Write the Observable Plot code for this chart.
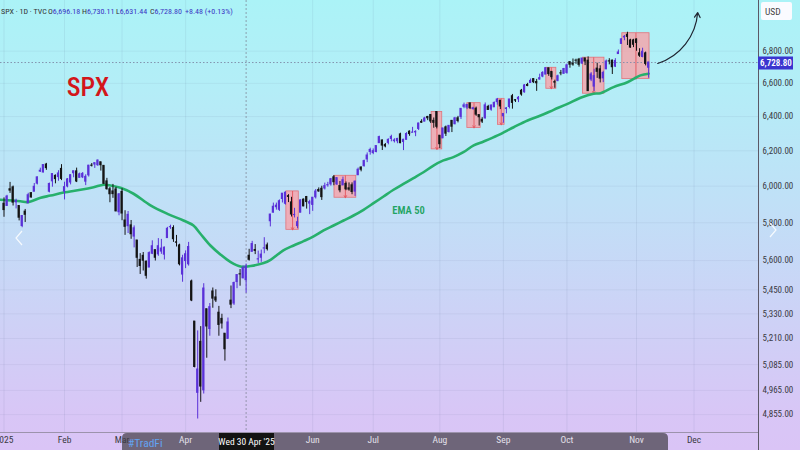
<!DOCTYPE html>
<html><head><meta charset="utf-8">
<script src="https://cdn.jsdelivr.net/npm/d3@7"></script>
<script src="https://cdn.jsdelivr.net/npm/@observablehq/plot@0.6"></script>
<style>
html,body{margin:0;padding:0;background:#fff;}
#chart{width:800px;height:450px;position:relative;overflow:hidden;
background:linear-gradient(to bottom,#abf3f7 0%,#b3eef7 18%,#c0e0f7 45%,#cdd2f6 70%,#d8c6f6 92%,#dac4f6 100%);}
#chart svg{display:block;}
</style></head><body><div id="chart"></div>
<script>
// ---- Daily OHLC, SPX, 2 Jan 2025 -> 7 Nov 2025 (bar index = trading day) ----
const opens = [
5903.26,5891.07,5982.81,5993.26,5910.66,5890.66,5782.35,5859.95,5905.21,5961.30,5969.04,6014.12,6081.39,6076.32,6121.43,5969.04,6026.97,6057.70,6050.75,6096.79,
5969.65,5998.14,6020.45,6072.22,6083.13,6046.40,6049.32,6025.08,6060.59,6115.52,6121.60,6117.76,6134.50,6114.10,6026.69,5982.73,5970.87,5981.88,5856.74,
5968.33,5811.98,5781.39,5785.87,5726.01,5705.37,5603.65,5624.84,5594.45,5563.85,5635.60,5654.53,5632.37,5646.92,5630.73,5718.08,5775.86,5771.66,5695.64,5679.29,5527.91,
5597.53,5580.76,5492.74,5292.14,4953.79,5193.57,4965.28,5353.15,5255.56,5441.96,5411.99,5335.75,5305.45,5232.94,5207.67,5395.92,5381.38,5489.73,5529.22,5508.87,5499.44,
5625.14,5645.46,5655.32,5605.88,5614.55,5663.11,5679.49,5807.82,5854.12,5884.12,5869.76,5929.09,5902.88,5944.66,5910.51,5841.26,5781.89,5854.07,5925.62,5939.96,5903.67,
5896.68,5938.56,5978.94,5985.67,5987.06,6004.60,6009.91,6049.38,6009.90,6000.56,6004.00,6012.15,5987.93,6004.80,5969.67,6061.21,6104.51,6112.14,6150.70,6193.36,
6187.25,6193.21,6243.92,6259.75,6233.14,6245.41,6268.43,6255.68,6255.15,6295.28,6250.86,6263.40,6311.03,6304.74,6306.60,6326.90,6368.60,6370.01,6397.69,6409.37,6374.63,6427.02,
6287.28,6271.71,6336.15,6309.03,6374.39,6355.06,6389.67,6397.32,6457.88,6453.34,6478.21,6445.02,6446.70,6408.95,6380.88,6388.98,6457.67,6440.83,6455.07,6486.20,6494.89,
6401.51,6444.84,6456.95,6521.86,6498.09,6503.17,6555.00,6545.45,6590.29,6602.43,6626.08,6608.49,6623.73,6641.53,6653.84,6692.95,6670.64,6607.59,6615.64,6661.58,6658.71,
6664.28,6731.31,6722.14,6740.45,6746.74,6722.76,6754.40,6740.21,6623.18,6580.25,6690.84,6686.63,6630.75,6686.45,6736.09,6740.58,6703.07,6781.83,6845.76,6886.83,6904.20,6868.08,6868.26,
6873.97,6786.39,6763.55,6786.17,6696.18];
const highs = [
5935.09,5949.34,6021.04,6000.68,5927.89,5890.66,5838.56,5871.90,5960.61,5964.69,6014.96,6051.51,6100.81,6118.73,6128.18,6017.17,6069.90,6062.83,6086.64,6120.91,
6022.13,6042.48,6062.86,6084.03,6101.28,6073.38,6076.28,6063.49,6116.91,6127.47,6129.63,6147.43,6134.50,6114.82,6043.65,5992.65,6009.82,5993.69,5959.40,
5986.09,5865.08,5860.59,5812.08,5783.01,5705.37,5636.30,5642.19,5597.78,5645.27,5703.52,5654.53,5715.33,5711.15,5670.84,5775.14,5786.95,5783.62,5732.28,5685.89,5627.56,
5650.57,5695.31,5499.53,5292.14,5246.57,5267.47,5481.34,5353.15,5381.46,5459.46,5450.41,5367.24,5328.31,5232.94,5309.59,5469.69,5489.40,5528.11,5553.66,5571.95,5581.84,
5658.91,5700.71,5683.70,5649.58,5654.83,5720.10,5691.68,5845.62,5906.63,5906.48,5924.21,5958.62,5968.61,5953.06,5938.37,5878.08,5829.51,5924.33,5929.00,5943.13,5922.14,
5937.40,5981.35,5990.48,5999.70,6016.87,6021.31,6043.01,6059.40,6045.43,6026.16,6050.83,6023.25,6018.25,6018.20,6028.79,6101.80,6108.51,6146.52,6187.68,6215.08,
6210.78,6227.60,6284.65,6262.38,6242.19,6269.16,6290.22,6269.59,6272.09,6302.04,6266.40,6304.95,6315.61,6336.08,6316.12,6360.64,6381.31,6395.82,6401.07,6409.82,6391.62,6427.02,
6287.28,6329.94,6343.82,6346.08,6376.91,6395.16,6401.05,6446.55,6480.28,6473.44,6481.34,6455.35,6456.37,6408.95,6393.57,6481.20,6466.89,6468.52,6487.06,6508.23,6495.75,
6416.54,6453.67,6502.54,6532.65,6500.20,6520.00,6563.00,6592.86,6600.21,6626.99,6627.55,6624.31,6656.37,6671.82,6695.49,6692.95,6670.64,6619.42,6650.57,6679.76,6692.18,
6718.72,6731.94,6750.87,6749.52,6754.49,6753.72,6755.41,6764.22,6665.88,6686.76,6724.19,6708.72,6674.27,6744.35,6752.71,6743.64,6752.96,6807.23,6877.67,6899.86,6920.34,6875.31,6875.16,
6877.46,6815.24,6818.49,6794.21,6730.11];
const lows = [
5829.53,5888.66,5960.01,5890.68,5874.78,5809.86,5773.31,5801.48,5905.21,5934.08,5969.04,6006.88,6076.71,6074.67,6088.74,5962.92,5994.33,6012.96,6027.46,6030.93,
5923.93,5990.87,6007.06,6046.83,6019.96,6044.84,6042.34,6003.00,6050.95,6107.62,6099.51,6111.15,6084.59,6008.56,5977.83,5908.49,5932.69,5858.78,5837.66,
5810.91,5732.59,5742.35,5711.64,5666.29,5564.02,5528.41,5546.09,5504.65,5563.85,5631.12,5597.76,5622.20,5632.58,5603.10,5718.08,5764.43,5695.31,5670.94,5572.42,5488.73,
5558.52,5571.48,5390.83,5069.90,4835.04,4910.42,4948.43,5115.27,5220.77,5358.02,5386.44,5220.79,5255.58,5101.63,5207.67,5356.15,5371.96,5455.86,5468.64,5505.70,5433.24,
5597.35,5645.46,5631.16,5585.21,5591.08,5635.62,5650.07,5777.65,5853.14,5868.28,5861.04,5907.36,5895.69,5909.26,5830.91,5825.82,5767.41,5854.07,5886.81,5873.80,5843.66,
5861.43,5929.00,5966.11,5921.20,5978.63,5994.18,6000.26,6002.32,6003.88,5963.21,6004.00,5974.80,5971.89,5952.56,5943.23,6059.07,6080.31,6107.26,6132.35,6174.97,
6177.97,6188.29,6243.92,6201.80,6217.08,6234.30,6251.94,6245.23,6240.81,6241.45,6201.28,6262.60,6283.86,6303.79,6281.71,6317.49,6360.57,6368.53,6375.54,6358.52,6331.03,6327.22,
6212.69,6271.71,6282.67,6303.11,6305.75,6350.63,6362.56,6382.72,6446.63,6441.06,6441.45,6437.51,6401.26,6343.87,6358.75,6385.34,6438.06,6431.59,6454.16,6467.91,6441.72,
6360.58,6416.17,6445.47,6443.98,6483.79,6483.30,6522.00,6540.33,6579.46,6602.43,6598.80,6551.31,6619.76,6634.53,6653.84,6642.95,6620.89,6570.07,6609.45,6646.76,6656.20,
6656.20,6693.23,6705.67,6717.78,6699.96,6715.89,6709.68,6550.78,6610.62,6550.52,6630.41,6602.49,6604.70,6684.44,6714.19,6654.54,6697.55,6780.37,6845.76,6866.06,6835.71,6818.97,6822.34,
6799.29,6761.13,6758.23,6707.73,6631.44];
const closes = [
5868.55,5942.47,5975.38,5909.03,5918.25,5827.04,5836.22,5842.91,5949.91,5937.34,5996.66,6049.24,6086.37,6118.71,6101.24,6012.28,6067.70,6039.31,6071.17,6040.53,
5994.57,6037.88,6061.48,6083.57,6025.99,6066.44,6068.50,6051.97,6115.07,6114.63,6129.58,6144.15,6117.52,6013.13,5983.25,5955.25,5956.06,5861.57,5954.50,
5849.72,5778.15,5842.63,5738.52,5770.20,5614.56,5572.07,5599.30,5521.52,5638.94,5675.12,5614.66,5675.29,5662.89,5667.56,5767.57,5776.65,5712.20,5693.31,5580.94,5611.85,
5633.07,5670.97,5396.52,5074.08,5062.25,4982.77,5456.90,5268.05,5363.36,5405.97,5396.63,5275.70,5282.70,5158.20,5287.76,5375.86,5484.77,5525.21,5528.75,5560.83,5569.06,
5604.14,5686.67,5650.38,5606.91,5631.28,5663.94,5659.91,5844.19,5886.55,5892.58,5916.93,5958.38,5963.60,5940.46,5844.61,5842.01,5802.82,5921.54,5888.55,5912.17,5911.69,
5935.94,5970.37,5970.81,5939.30,6000.36,6005.88,6038.81,6022.24,6045.26,5976.97,6033.11,5982.72,5980.87,5967.84,6025.17,6092.18,6092.16,6141.02,6173.07,6204.95,
6198.01,6227.42,6279.35,6229.98,6225.52,6263.26,6280.46,6259.75,6268.56,6243.76,6263.70,6297.36,6296.79,6305.60,6309.62,6358.91,6363.35,6388.64,6389.77,6370.86,6362.90,6339.39,
6238.01,6329.94,6299.19,6345.06,6340.00,6389.45,6373.45,6445.76,6466.58,6468.54,6449.80,6449.15,6411.37,6395.78,6370.17,6466.91,6439.32,6465.94,6481.40,6501.86,6460.26,
6415.54,6448.26,6502.08,6481.50,6495.15,6512.61,6532.04,6587.47,6584.29,6615.28,6606.76,6600.35,6631.96,6664.36,6693.75,6656.92,6637.97,6604.72,6643.70,6661.21,6688.46,
6711.20,6715.35,6715.79,6740.28,6714.59,6753.72,6735.11,6552.51,6654.72,6644.31,6671.06,6629.07,6664.01,6735.13,6735.35,6699.40,6738.44,6791.69,6875.16,6890.89,6890.59,6822.34,6840.20,
6851.97,6771.55,6796.29,6720.32,6728.80];

// ---- EMA 50 (bar index, value) ----
const emaBars = [-1.2,5.4,7.8,12.1,15.4,19.7,25.3,29.6,32.9,35.2,38.5,42.8,48.4,54.0,59.3,62.6,64.9,68.2,71.5,74.9,78.2,81.5,85.8,88.1,92.3,95.7,99.0,102.3,105.6,108.9,112.2,115.5,118.8,122.1,125.4,128.7,132.0,135.3,138.6,141.9,145.2,148.5,151.8,155.2,158.5,163.1,168.4,173.0,177.3,181.6,186.2,190.5,194.8,197.1,201.4,206.0,210.3,213];
const emaValues = [5925,5917,5912,5936,5948,5965,5980,5994,6008,6004,5991,5958,5894,5848,5812,5785,5741,5679,5632,5592,5569,5572,5587,5604,5653,5679,5702,5727,5759,5785,5812,5839,5870,5906,5943,5980,6013,6045,6078,6116,6145,6164,6192,6231,6254,6289,6337,6377,6406,6440,6476,6513,6537,6540,6577,6607,6649,6659];

// ---- price-range boxes drawn on the chart ----
const boxStart  = [93.3,109.2,141.3,153.1,163.2,179.2,191.3,204.3];
const boxEnd    = [97.4,116.4,144.8,157.5,165.4,182.5,198.4,213.3];
const boxTop    = [5971,6058,6427,6480,6506,6696,6759,6914];
const boxBottom = [5762,5936,6208,6333,6351,6567,6537,6626];

// ---- curved "up" arrow ----
const arrowFrom = [216.0, 6723];
const arrowTo   = [229.2, 7048];

// ---- axes ----
const monthLabels = ["2025","Feb","Mar","Apr","Jun","Jul","Aug","Sep","Oct","Nov","Dec"];
const monthBars   = [0,20,39,60,102,122,144,165,186,209,228];
const priceTicks  = [6800,6600,6400,6200,6000,5800,5600,5450,5330,5210,5085,4965,4855];
const crosshairBar = 80;
const crosshairLabel = "Wed 30 Apr '25";
const legendOpen = 6696.18, legendHigh = 6730.11, legendLow = 6631.44, legendClose = 6728.80, legendChange = 8.48, legendPct = 0.13;

const bars = closes.map((c, i) => ({i, o: opens[i], h: highs[i], l: lows[i], c}));
const ema = emaBars.map((b, k) => ({b, v: emaValues[k]}));
const boxes = boxStart.map((s, k) => ({s, e: boxEnd[k], t: boxTop[k], btm: boxBottom[k], m: (s + boxEnd[k]) / 2}));
const months = monthLabels.map((label, k) => ({label, bar: monthBars[k]}));

const UP = "#5a31d8", DOWN = "#141414";
const FONT = "'Liberation Sans Narrow','Roboto Condensed','DejaVu Sans Condensed','Arial Narrow','Liberation Sans',sans-serif";
const fmt2 = d3.format(",.2f");
const up = d => d.c >= d.o;

const plot = Plot.plot({
  width: 800, height: 450,
  marginTop: 0, marginLeft: 0, marginRight: 42, marginBottom: 18,
  style: {background: "transparent", fontFamily: FONT, overflow: "visible"},
  x: {type: "linear", domain: [-1.157, 249.3], axis: null},
  y: {type: "log", domain: [4775, 7127], axis: null},
  marks: [
    Plot.ruleX(monthBars, {stroke: "#5a6a90", strokeOpacity: 0.10}),
    Plot.ruleY(priceTicks, {stroke: "#5a6a90", strokeOpacity: 0.08}),
    Plot.rect(boxes, {x1: "s", x2: "e", y1: "btm", y2: "t", fill: "#ff9aa0", fillOpacity: 0.72, stroke: "#e2727a", strokeWidth: 0.8}),
    Plot.arrow(boxes, {x: "m", y1: "t", y2: "btm", stroke: "#e4555e", strokeWidth: 0.9, headLength: 4}),
    Plot.ruleX([crosshairBar], {stroke: "#7a7f90", strokeDasharray: "2,2", strokeOpacity: 0.7}),
    Plot.ruleY([legendClose], {stroke: "#7e8aa8", strokeDasharray: "1.5,2", strokeOpacity: 0.9}),
    Plot.line(ema, {x: "b", y: "v", stroke: "#27b06c", strokeWidth: 2.6, curve: "catmull-rom"}),
    Plot.ruleX(bars, {filter: up, x: "i", y1: "l", y2: "h", stroke: UP, strokeWidth: 1}),
    Plot.ruleX(bars, {filter: d => !up(d), x: "i", y1: "l", y2: "h", stroke: DOWN, strokeWidth: 1}),
    Plot.rect(bars, {filter: up, x1: d => d.i - 0.36, x2: d => d.i + 0.36, y1: "o", y2: "c", fill: UP, insetTop: -0.5, insetBottom: -0.5}),
    Plot.rect(bars, {filter: d => !up(d), x1: d => d.i - 0.36, x2: d => d.i + 0.36, y1: "o", y2: "c", fill: DOWN, insetTop: -0.5, insetBottom: -0.5}),
    Plot.arrow([{a: arrowFrom, b: arrowTo}], {x1: d => d.a[0], y1: d => d.a[1], x2: d => d.b[0], y2: d => d.b[1], bend: -34, stroke: "#1e2430", strokeWidth: 1.2, headLength: 7}),
    Plot.text(["EMA 50"], {frameAnchor: "top-left", dx: 408, dy: 206, text: d => d, textAnchor: "middle", fill: "#1fa463", fontSize: 10.5, fontWeight: 600}),
    Plot.text(["SPX"], {frameAnchor: "top-left", dx: 87.5, dy: 77, text: d => d, textAnchor: "middle", fill: "#d3161b", fontSize: 26, fontWeight: 500}),
    Plot.axisY(priceTicks, {anchor: "right", tickSize: 0, tickPadding: 4, tickFormat: fmt2, fontSize: 9, fill: "#3a3a44", textAnchor: "start"}),
    Plot.text(months, {x: "bar", text: "label", frameAnchor: "bottom", dy: 10, fontSize: 9.5,
      fill: d => (d.bar > 39 && d.bar < 219) ? "#e4e0ea" : "#3a3a44"})
  ]
});

const svg = d3.select(plot);
// dark time-range band behind the time labels
const bx = 122, by = 433, bw = 546, bh = 20, r = 5;
svg.insert("path", ":first-child")
  .attr("d", `M${bx},${by + r}Q${bx},${by} ${bx + r},${by}H${bx + bw - r}Q${bx + bw},${by} ${bx + bw},${by + r}V${by + bh}H${bx}Z`)
  .attr("fill", "#6e6579");
svg.append("line").attr("x1", 0).attr("x2", 758).attr("y1", 432.5).attr("y2", 432.5).attr("stroke", "#9c93ac");
svg.append("line").attr("x1", 758.5).attr("x2", 758.5).attr("y1", 0).attr("y2", 450).attr("stroke", "#5c5866");
const T = (x, y, size, fill, anchor) => svg.append("text").attr("x", x).attr("y", y).attr("font-size", size)
  .attr("fill", fill).attr("text-anchor", anchor || "start").attr("font-family", FONT);
// crosshair time label
svg.append("rect").attr("x", 219).attr("y", 433).attr("width", 55).attr("height", 17).attr("fill", "#131313");
T(246.5, 445, 9.5, "#fff", "middle").text(crosshairLabel);
T(128, 446.5, 11.5, "#63a3f2").text("#TradFi");
// last price label
svg.append("rect").attr("x", 758).attr("y", 56.5).attr("width", 35).attr("height", 13).attr("fill", "#3b35cf");
T(760, 66.3, 9, "#fff").attr("font-weight", 600).text(fmt2(legendClose));
// currency box
svg.append("rect").attr("x", 761).attr("y", 2).attr("width", 31).attr("height", 18).attr("rx", 2).attr("fill", "#fafbff");
T(765, 14.5, 9.5, "#444").text("USD");
// chevrons
svg.append("path").attr("d", "M22,231L16,238L22,245").attr("fill", "none").attr("stroke", "#fff").attr("stroke-opacity", 0.85).attr("stroke-width", 1.2);
svg.append("path").attr("d", "M770,223L776,230L770,237").attr("fill", "none").attr("stroke", "#fff").attr("stroke-opacity", 0.85).attr("stroke-width", 1.2);
// legend line: separate pieces at their places
const sign = v => (v >= 0 ? "+" : "") + v.toFixed(2);
const legendParts = [
  [1, "SPX · 1D · TVC", null],
  [48, "O", fmt2(legendOpen)],
  [82, "H", fmt2(legendHigh)],
  [116, "L", fmt2(legendLow)],
  [150, "C", fmt2(legendClose)],
  [185, null, sign(legendChange) + " (" + sign(legendPct) + "%)"]
];
legendParts.forEach(([x, label, value]) => {
  const t = T(x, 13.5, 8, "#333");
  if (label) t.append("tspan").attr("fill", "#333").text(label);
  if (value) t.append("tspan").attr("fill", "#3b35c4").text(value);
});

document.getElementById("chart").appendChild(plot);
</script></body></html>
